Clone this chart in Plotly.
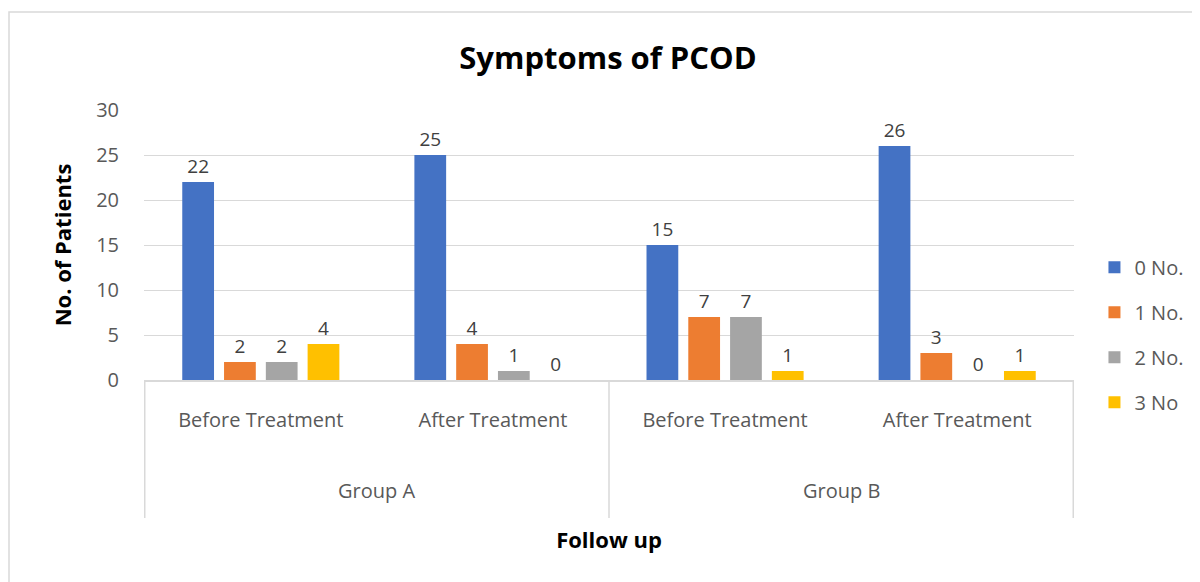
import plotly.graph_objects as go

groups = ["Group A", "Group A", "Group B", "Group B"]
phases = ["Before Treatment", "After Treatment", "Before Treatment", "After Treatment"]
group_names = ["Group A", "Group B"]
series_names = ["0 No.", "1 No.", "2 No.", "3 No"]
values_0 = [22, 25, 15, 26]
values_1 = [2, 4, 7, 3]
values_2 = [2, 1, 7, 0]
values_3 = [4, 0, 1, 1]
colors = ["#4472C4", "#ED7D31", "#A5A5A5", "#FFC000"]

x_keys = [f"{g} | {p}" for g, p in zip(groups, phases)]

FONT = "Open Sans"
GRAY = "#595959"
LINE = "#D9D9D9"
fig = go.Figure()
for i, (name, vals) in enumerate(zip(series_names, [values_0, values_1, values_2, values_3])):
    fig.add_trace(go.Bar(
        x=x_keys, y=vals, name=name, legendgroup=name,
        marker=dict(color=colors[i], line=dict(width=0)),
        text=[str(v) for v in vals], textposition="outside",
        textfont=dict(family=FONT, size=19, color="#404040"),
        cliponaxis=False,
    ))

fig.update_layout(
    width=1200, height=582,
    paper_bgcolor="white", plot_bgcolor="white",
    margin=dict(l=136, r=134, t=102, b=210),
    barmode="group", bargap=0.28, bargroupgap=0.24,
    title=dict(text="<b>Symptoms of PCOD</b>", x=0.5, xanchor="center", y=0.914, yanchor="middle",
               xref="container", font=dict(family=FONT, size=31, color="black")),
    legend=dict(x=1.022, xanchor="left", y=0.49, yanchor="top", tracegroupgap=16,
                font=dict(family=FONT, size=20, color=GRAY), itemwidth=30),
    showlegend=True,
)
fig.update_yaxes(range=[0, 30], dtick=5, showgrid=True, gridcolor=LINE, gridwidth=1,
                 zeroline=False, showline=False, ticks="", ticklabelstandoff=24,
                 tickfont=dict(family=FONT, size=20, color=GRAY),
                 title=dict(text="<b>No. of Patients</b>", font=dict(family=FONT, size=22, color="black"), standoff=18))
fig.update_xaxes(type="category", tickvals=x_keys, ticktext=phases,
                 showline=True, linecolor=LINE, linewidth=1.5, ticks="", ticklabelstandoff=21,
                 tickfont=dict(family=FONT, size=20, color=GRAY),
                 title=dict(text="<b>Follow up</b>", font=dict(family=FONT, size=22, color="black"), standoff=101))

# group labels and dividers of the two-level category axis
for gi, gname in enumerate(group_names):
    fig.add_annotation(text=gname, x=2 * gi + 0.5, xref="x", y=0, yref="paper", yshift=-110,
                       showarrow=False, yanchor="middle", font=dict(family=FONT, size=20, color=GRAY))
for xd in [-0.5, 1.5, 3.5]:
    fig.add_shape(type="line", xref="x", yref="paper", x0=xd, x1=xd, y0=0, y1=-138 / 270,
                  line=dict(color=LINE, width=1.5))

fig.add_shape(type="rect", xref="paper", yref="paper", x0=-135 / 930, x1=1.3, y0=-1.0, y1=1.363,
              line=dict(color=LINE, width=1.5), fillcolor="rgba(0,0,0,0)", layer="below")

fig.write_html("out.html")
